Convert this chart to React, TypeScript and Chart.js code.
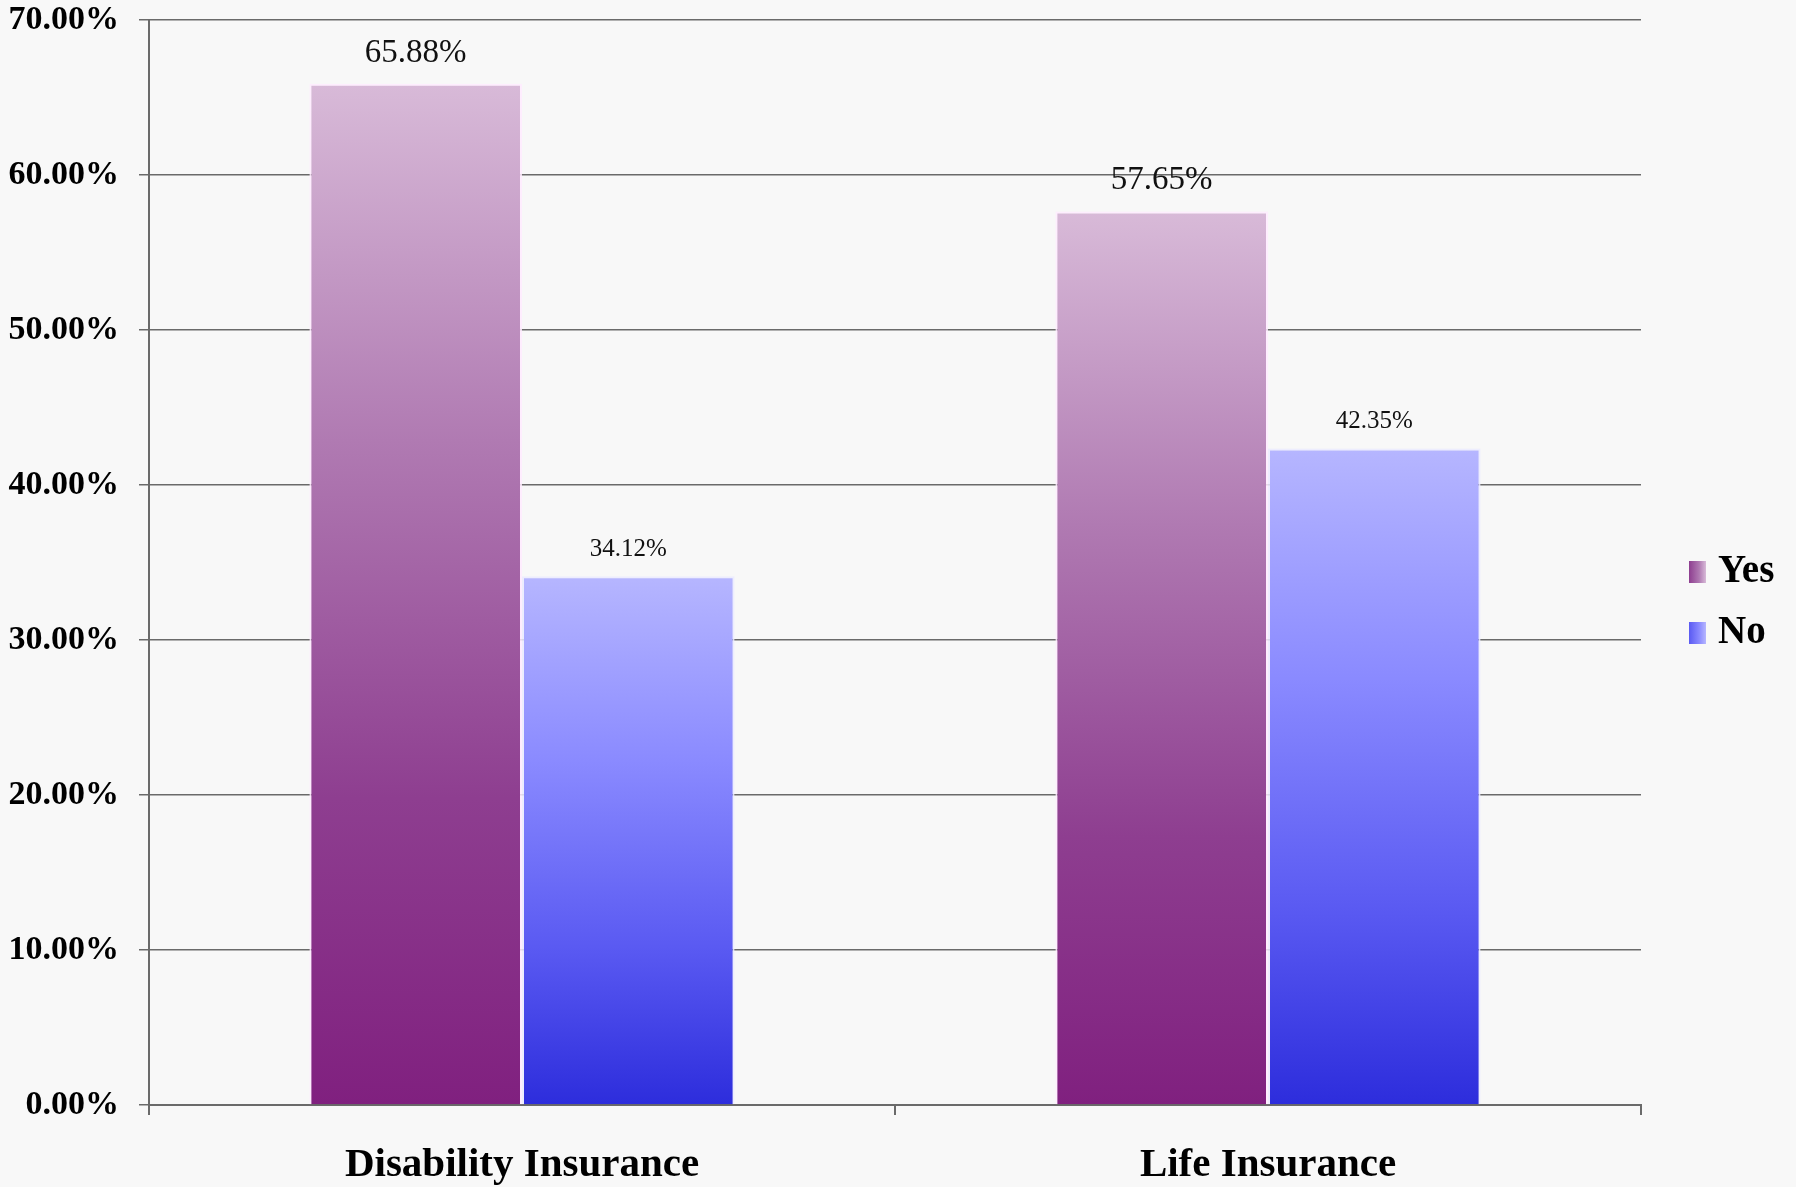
import React, { useEffect, useRef } from "react";
import { Chart, registerables } from "chart.js";

Chart.register(...registerables);

const categories = ["Disability Insurance", "Life Insurance"];
const seriesNames = ["Yes", "No"];
const yesValues = [65.88, 57.65];
const noValues = [34.12, 42.35];
const yTicks = [0, 10, 20, 30, 40, 50, 60, 70];

const FONT = "'Liberation Serif', 'DejaVu Serif', serif";

const gradStops: Record<string, string[]> = {
  Yes: ["#d8bad8", "#b07ab2", "#8e3e90", "#80207f"],
  No: ["#b6b6ff", "#8a8aff", "#5a5af2", "#2d2ddc"],
};
const labelSize: Record<string, number> = { Yes: 33, No: 25 };

function barFill(name: string) {
  return (ctx: any) => {
    const chart = ctx.chart;
    const stops = gradStops[name];
    const sc = chart.scales && chart.scales.y;
    if (!chart.chartArea || !sc || ctx.type !== "data") return stops[2];
    const v = ctx.raw as number;
    const top = sc.getPixelForValue(v);
    const bot = sc.getPixelForValue(0);
    const g = chart.ctx.createLinearGradient(0, top, 0, bot);
    g.addColorStop(0, stops[0]);
    g.addColorStop(0.35, stops[1]);
    g.addColorStop(0.7, stops[2]);
    g.addColorStop(1, stops[3]);
    return g;
  };
}

const bgPlugin = {
  id: "bg",
  beforeDraw(chart: any) {
    const c = chart.ctx;
    c.save();
    c.fillStyle = "#f8f8f8";
    c.fillRect(0, 0, chart.width, chart.height);
    c.restore();
  },
};

const valueLabels = {
  id: "valueLabels",
  afterDatasetsDraw(chart: any) {
    const c = chart.ctx;
    c.save();
    chart.data.datasets.forEach((ds: any, di: number) => {
      const meta = chart.getDatasetMeta(di);
      meta.data.forEach((bar: any, i: number) => {
        const v = ds.data[i] as number;
        c.font = `${labelSize[ds.label]}px ${FONT}`;
        c.fillStyle = "#111";
        c.textAlign = "center";
        c.textBaseline = "middle";
        c.fillText(v.toFixed(2) + "%", bar.x, bar.y - (ds.label === "Yes" ? 31 : 27));
      });
    });
    c.restore();
  },
};

const customLegend = {
  id: "customLegend",
  afterDraw(chart: any) {
    const c = chart.ctx;
    c.save();
    const x0 = 1689;
    const ys = [572, 633];
    chart.data.datasets.forEach((ds: any, di: number) => {
      const y = ys[di];
      const stops = gradStops[ds.label];
      const g = c.createLinearGradient(x0, 0, x0 + 17, 0);
      g.addColorStop(0, stops[2]);
      g.addColorStop(0.6, stops[1]);
      g.addColorStop(1, stops[0]);
      c.fillStyle = g;
      c.fillRect(x0, y - 11, 17, 22);
      c.font = `bold 39px ${FONT}`;
      c.fillStyle = "#000";
      c.textAlign = "left";
      c.textBaseline = "middle";
      c.fillText(ds.label, x0 + 29, y);
    });
    c.restore();
  },
};

export default function App() {
  const ref = useRef<HTMLCanvasElement | null>(null);
  useEffect(() => {
    document.body.style.margin = "0";
    if (!ref.current) return;
    const chart = new Chart(ref.current, {
      type: "bar",
      data: {
        labels: categories,
        datasets: [
          {
            label: seriesNames[0],
            data: yesValues,
            backgroundColor: barFill("Yes"),
            borderColor: "rgba(255,235,255,0.85)",
            borderWidth: 2,
            categoryPercentage: 0.57,
            barPercentage: 1,
          },
          {
            label: seriesNames[1],
            data: noValues,
            backgroundColor: barFill("No"),
            borderColor: "rgba(235,235,255,0.85)",
            borderWidth: 2,
            categoryPercentage: 0.57,
            barPercentage: 1,
          },
        ],
      },
      options: {
        animation: false,
        responsive: false,
        maintainAspectRatio: false,
        layout: { padding: { left: 0, right: 155, top: 20, bottom: 0 } },
        plugins: { legend: { display: false }, tooltip: { enabled: false } },
        scales: {
          x: {
            grid: {
              display: true,
              drawOnChartArea: false,
              drawTicks: true,
              tickLength: 10,
              color: "#6a6a6a",
              lineWidth: 2,
              offset: true,
            },
            border: { display: true, color: "#6a6a6a", width: 2 },
            ticks: {
              color: "#000",
              font: { family: FONT, size: 41, weight: "bold" },
              padding: 26,
            },
            afterFit(scale: any) {
              scale.height = 82;
              scale.paddingLeft = 0;
              scale.paddingRight = 0;
            },
          },
          y: {
            min: 0,
            max: 70,
            afterBuildTicks(scale: any) {
              scale.ticks = yTicks.map((v) => ({ value: v }));
            },
            grid: {
              color: "#6a6a6a",
              lineWidth: 1.5,
              tickLength: 10,
            },
            border: { display: true, color: "#6a6a6a", width: 2 },
            ticks: {
              color: "#000",
              font: { family: FONT, size: 34, weight: "bold" },
              padding: 20,
              callback: (v: any) => Number(v).toFixed(2) + "%",
            },
            afterFit(scale: any) {
              scale.width = 149;
              scale.paddingTop = 0;
              scale.paddingBottom = 0;
            },
          },
        },
      },
      plugins: [bgPlugin, valueLabels, customLegend],
    });
    return () => chart.destroy();
  }, []);
  return (
    <div style={{ width: 1796, height: 1187 }}>
      <canvas ref={ref} width={1796} height={1187} style={{ display: "block" }} />
    </div>
  );
}
